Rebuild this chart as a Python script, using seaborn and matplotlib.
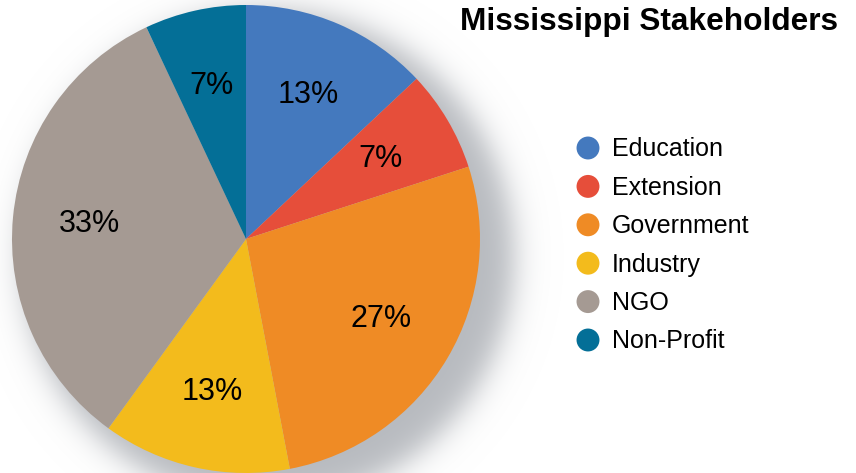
import numpy as np
import matplotlib
matplotlib.use("Agg")
import matplotlib.pyplot as plt
import seaborn as sns

# Stakeholder shares (percent)
categories = ["Education", "Extension", "Government", "Industry", "NGO", "Non-Profit"]
shares = [13, 7, 27, 13, 33, 7]
colors = ["#4479BE", "#E64E3A", "#EF8B25", "#F3BB1C", "#A59A93", "#046F97"]
title = "Mississippi Stakeholders"

sns.set_theme(style="white")
plt.rcParams["font.family"] = ["Liberation Sans", "DejaVu Sans"]
plt.rcParams["text.color"] = "black"

W, H = 856, 473
fig = plt.figure(figsize=(W / 100, H / 100), dpi=100)
ax = fig.add_axes([0, 0, 1, 1])

cx, cy, r = 246, H - 239, 234

# soft drop shadow behind the pie
yy, xx = np.mgrid[0:H, 0:W]
sx, sy, sr = cx + 22, (239 + 18), 246
d = np.hypot(xx + 0.5 - sx, yy + 0.5 - sy)
alpha = 1.0 / (1.0 + np.exp((d - sr) / 9.0))
shadow = np.zeros((H, W, 4))
shadow[..., 0] = 0.72
shadow[..., 1] = 0.73
shadow[..., 2] = 0.75
shadow[..., 3] = alpha
ax.imshow(shadow, extent=(0, W, 0, H), origin="upper", zorder=0, interpolation="bilinear")

ax.pie(shares, colors=sns.color_palette(colors), startangle=90, counterclock=False,
       center=(cx, cy), radius=r, autopct="%d%%", pctdistance=0.67,
       textprops=dict(fontsize=22, color="black"),
       wedgeprops=dict(linewidth=0), frame=True)
ax.set_xlim(0, W)
ax.set_ylim(0, H)
ax.set_aspect("equal")
ax.axis("off")

ax.text(649, H - 22, title, ha="center", va="center", fontsize=22.8,
        fontweight="bold", color="black")

# legend: coloured dots with labels
for i, (lab, col) in enumerate(zip(categories, colors)):
    y = H - (148 + i * 38.4)
    ax.scatter([588], [y], s=16.5 ** 2, color=col, edgecolor="none", zorder=3)
    ax.text(612, y - 1.5, lab, ha="left", va="center", fontsize=18, color="black")

fig.savefig("out.png", dpi=100)
